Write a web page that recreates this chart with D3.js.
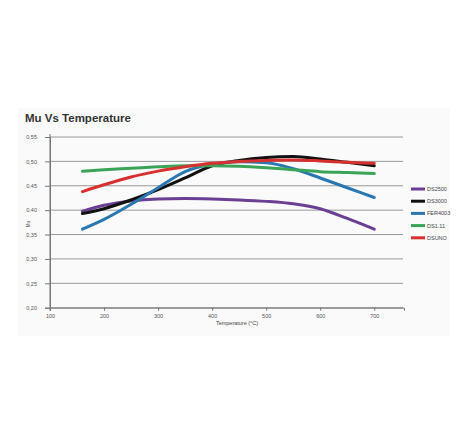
<!DOCTYPE html>
<html>
<head>
<meta charset="utf-8">
<script src="https://cdn.jsdelivr.net/npm/d3@7"></script>
<style>
  body { margin: 0; background: #fff; }
  svg { display: block; font-family: "Liberation Sans", Arial, sans-serif; }
</style>
</head>
<body>
<div id="chart"></div>
<script>
const temps = [160, 200, 250, 300, 350, 400, 450, 500, 550, 600, 650, 700];

const ds2500 = [0.398, 0.410, 0.419, 0.423, 0.424, 0.423, 0.421, 0.418, 0.413, 0.403, 0.383, 0.361];
const ds3000 = [0.393, 0.403, 0.421, 0.442, 0.466, 0.491, 0.502, 0.508, 0.510, 0.505, 0.498, 0.491];
const fer4003 = [0.361, 0.381, 0.412, 0.446, 0.479, 0.494, 0.499, 0.497, 0.485, 0.466, 0.446, 0.426];
const ds111 = [0.480, 0.483, 0.486, 0.489, 0.491, 0.491, 0.490, 0.487, 0.483, 0.479, 0.477, 0.475];
const dsuno = [0.438, 0.452, 0.468, 0.480, 0.489, 0.496, 0.500, 0.502, 0.503, 0.501, 0.498, 0.496];

const seriesNames = ['DS2500', 'DS3000', 'FER4003', 'DS1.11', 'DSUNO'];
const seriesColors = ['#6b3f93', '#111111', '#2b77b1', '#3aa457', '#d7302f'];

const xTicks = [100, 200, 300, 400, 500, 600, 700];
const yTicks = [0.20, 0.25, 0.30, 0.35, 0.40, 0.45, 0.50, 0.55];

const width = 470;
const height = 440;

let svg = d3.select('#chart').append('svg')
    .attr('width', width)
    .attr('height', height);

// faint panel behind the chart
svg.append('rect')
    .attr('x', 18)
    .attr('y', 108)
    .attr('width', 432)
    .attr('height', 228)
    .attr('fill', '#fafafa');

svg.append('text')
    .attr('x', 25)
    .attr('y', 122)
    .attr('font-size', 11.5)
    .attr('font-weight', 'bold')
    .attr('fill', '#333')
    .text('Mu Vs Temperature');

let x = d3.scaleLinear()
    .domain([100, 755])
    .range([50, 404]);

let y = d3.scaleLinear()
    .domain([0.20, 0.55])
    .range([307.7, 137]);

// horizontal grid + y axis
let yAxis = svg.append('g')
    .attr('transform', 'translate(50,0)')
    .call(d3.axisLeft(y)
      .tickValues(yTicks)
      .tickSize(5)
      .tickPadding(8)
      .tickFormat(d => d3.format('.2f')(d).replace('.', ',')));

yAxis.select('.domain').attr('stroke', '#777');
yAxis.selectAll('.tick line').attr('stroke', '#777');
yAxis.selectAll('.tick text')
    .attr('font-size', 5.5)
    .attr('fill', '#555');

svg.append('g')
  .selectAll('line')
  .data(yTicks)
  .enter()
  .append('line')
    .attr('x1', 50)
    .attr('x2', 403)
    .attr('y1', d => y(d))
    .attr('y2', d => y(d))
    .attr('stroke', '#808080')
    .attr('stroke-width', 0.8);

svg.append('line')
    .attr('x1', 50)
    .attr('x2', 50)
    .attr('y1', y(0.55) - 3)
    .attr('y2', y(0.20) + 3)
    .attr('stroke', '#777');

let xAxis = svg.append('g')
    .attr('transform', 'translate(0,' + y(0.20) + ')')
    .call(d3.axisBottom(x)
      .tickValues(xTicks)
      .tickSize(3)
      .tickPadding(3));

xAxis.select('.domain').attr('stroke', '#777');
xAxis.selectAll('.tick line').attr('stroke', '#777');
xAxis.selectAll('.tick text')
    .attr('font-size', 5.5)
    .attr('fill', '#555');

svg.append('text')
    .attr('x', 237)
    .attr('y', 325)
    .attr('text-anchor', 'middle')
    .attr('font-size', 5.5)
    .attr('fill', '#444')
    .text('Temperature (°C)');

svg.append('text')
    .attr('transform', 'translate(30,224) rotate(-90)')
    .attr('text-anchor', 'middle')
    .attr('font-size', 4.5)
    .attr('fill', '#555')
    .text('Mu');

let series = [ds2500, ds3000, fer4003, ds111, dsuno];

let line = d3.line()
    .x((d, i) => x(temps[i]))
    .y(d => y(d))
    .curve(d3.curveMonotoneX);

svg.append('g')
  .selectAll('path')
  .data(series)
  .enter()
  .append('path')
    .attr('d', line)
    .attr('fill', 'none')
    .attr('stroke', (d, i) => seriesColors[i])
    .attr('stroke-width', 3)
    .attr('stroke-linecap', 'round');

let legend = svg.append('g')
  .selectAll('g')
  .data(seriesNames)
  .enter()
  .append('g')
    .attr('transform', (d, i) => 'translate(411,' + (189 + i * 12.2) + ')');

legend.append('rect')
    .attr('x', 0)
    .attr('y', -1.5)
    .attr('width', 14)
    .attr('height', 3)
    .attr('fill', (d, i) => seriesColors[i]);

legend.append('text')
    .attr('x', 16)
    .attr('y', 2)
    .attr('font-size', 5.5)
    .attr('fill', '#444')
    .text(d => d);
</script>
</body>
</html>
